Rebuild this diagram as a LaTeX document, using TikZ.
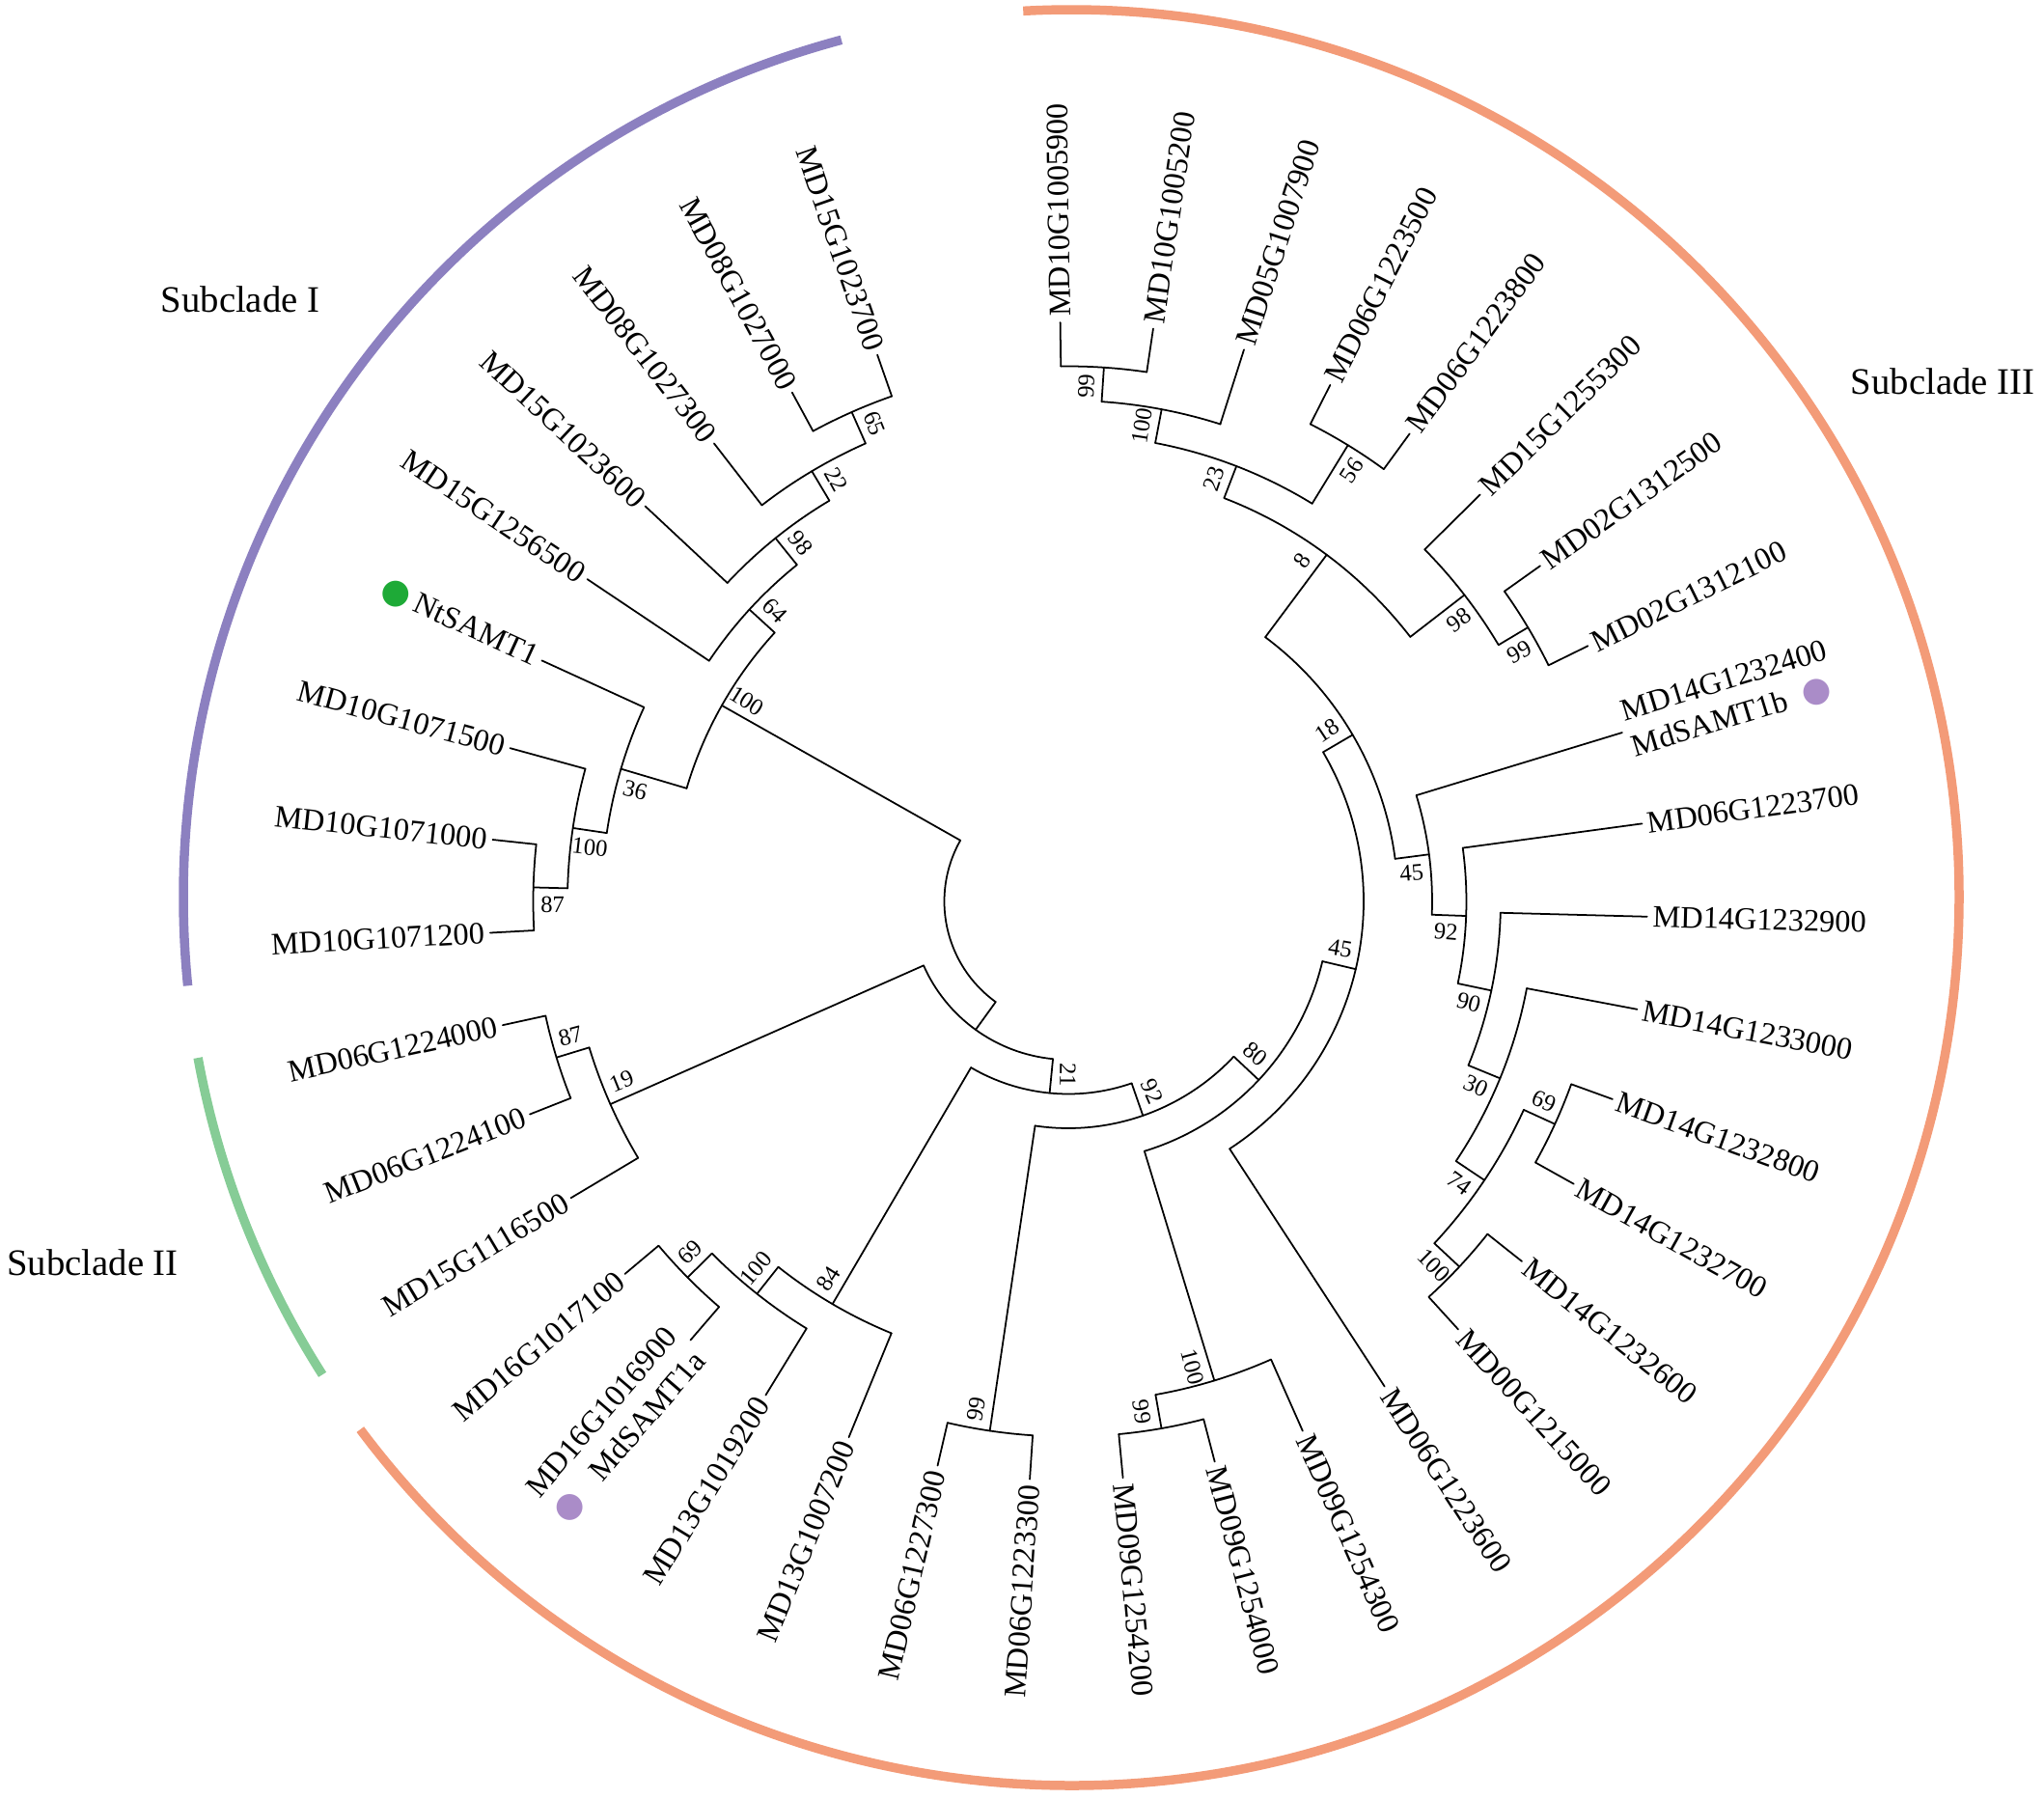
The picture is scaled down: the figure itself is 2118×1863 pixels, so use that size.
\documentclass[tikz,border=0pt]{standalone}
\usepackage{fontspec}
\setmainfont{Liberation Serif}
\newfontfamily\dotfont{DejaVu Sans}
\definecolor{cladeone}{RGB}{140,128,192}
\definecolor{cladetwo}{RGB}{134,204,150}
\definecolor{cladethree}{RGB}{243,155,120}
\definecolor{ntgreen}{RGB}{30,170,55}
\definecolor{mdpurple}{RGB}{170,140,200}
\newcommand{\cladedot}[1]{{\dotfont\fontsize{10}{10}\selectfont\textcolor{#1}{●}}}

\begin{document}
\begin{tikzpicture}[x=0.01cm, y=0.01cm,
	branch/.style={line width=0.5pt, line cap=round},
	taxon/.style={font=\fontsize{9.2}{11}\selectfont, inner sep=1.5pt},
	boot/.style={font=\fontsize{7}{8}\selectfont, inner sep=0pt},
	ring/.style={line width=2.7pt},
	clade/.style={font=\fontsize{11}{13}\selectfont}]
\useasboundingbox (-1110,-933) rectangle (1008,930);
\begin{scope}[xshift=-0.03cm, yshift=-0.04cm]
% taxa: index/parent radius/name
\foreach \li/\lp/\lt in {0/554.5/MD10G1005900, 1/554.5/MD10G1005200, 2/519/MD05G1007900,
	3/554.5/MD06G1223500, 4/554.5/MD06G1223800, 5/519/MD15G1255300, 6/554.5/MD02G1312500,
	7/554.5/MD02G1312100, 8/377/{MD14G1232400\\MdSAMT1b\hspace{0.5em}\cladedot{mdpurple}},
	9/412.5/MD06G1223700, 10/448/MD14G1232900, 11/483.5/MD14G1233000, 12/554.5/MD14G1232800,
	13/554.5/MD14G1232700, 14/554.5/MD14G1232600, 15/554.5/MD00G1215000, 16/306/MD06G1223600,
	17/519/MD09G1254300, 18/554.5/MD09G1254000, 19/554.5/MD09G1254200, 20/554.5/MD06G1223300,
	21/554.5/MD06G1227300, 22/483.5/MD13G1007200, 23/519/MD13G1019200,
	24/554.5/{MD16G1016900\\\cladedot{mdpurple}\hspace{0.8em}MdSAMT1a}, 25/554.5/MD16G1017100,
	26/519/MD15G1116500, 27/554.5/MD06G1224100, 28/554.5/MD06G1224000, 29/554.5/MD10G1071200,
	30/554.5/MD10G1071000, 31/519/MD10G1071500, 32/483.5/{\cladedot{ntgreen}\hspace{0.2em}NtSAMT1},
	33/448/MD15G1256500, 34/483.5/MD15G1023600, 35/519/MD08G1027300, 36/554.5/MD08G1027000,
	37/554.5/MD15G1023700} {
	\pgfmathsetmacro\la{90.8-9.2308*\li}
	\coordinate (l\li) at (\la:600);
	\coordinate (fl\li) at (\la:\lp);
	\draw[branch] (fl\li) -- (l\li);
	\ifdim\la pt<-90pt
		\node[taxon, anchor=east, rotate=\la+180, align=right] (t\li) at (l\li) {\lt};
	\else
		\node[taxon, anchor=west, rotate=\la, align=left] (t\li) at (l\li) {\lt};
	\fi
}
% inner nodes: name/angle/radius/parent radius/first child/arc from/arc to/bootstrap/side
\foreach \na/\nq/\nr/\np/\nc/\ca/\cb/\nb/\ns in {
	n14/86.185/554.5/519/l0/90.80/81.57/99/1, n12/79.26/519/483.5/n14/86.185/72.34/100/1,
	n13/58.495/554.5/483.5/l3/63.11/53.88/56/-1, n10/68.88/483.5/448/n12/79.26/58.495/23/1,
	n15/30.80/554.5/519/l6/35.42/26.18/99/-1, n11/37.725/519/448/l5/44.65/30.80/98/-1,
	n9/53.30/448/341.5/n10/68.88/37.725/8/1,
	n20/-24.585/554.5/519/l12/-19.97/-29.20/69/1, n21/-43.045/554.5/519/l14/-38.43/-47.66/100/-1,
	n19/-33.815/519/483.5/n20/-24.585/-43.045/74/-1, n18/-22.28/483.5/448/l11/-10.74/-33.815/30/-1,
	n17/-11.895/448/412.5/l10/-1.51/-22.28/90/-1, n16/-2.09/412.5/377/l9/7.72/-11.895/92/-1,
	n8/7.43/377/341.5/l8/16.95/-2.09/45/-1, n7/30.365/341.5/306/n9/53.30/7.43/18/1,
	n6/-13.26/306/270.5/n7/30.365/-56.89/45/1,
	n23/-79.97/554.5/519/l18/-75.35/-84.59/99/-1, n22/-73.045/519/270.5/l17/-66.12/-79.97/100/-1,
	n5/-43.15/270.5/235/n6/-13.26/-73.045/80/1,
	n24/-98.435/554.5/235/l20/-93.82/-103.05/99/-1, n4/-70.79/235/199.5/n5/-43.15/-98.435/92/1,
	n27/-135.355/554.5/519/l24/-130.74/-139.97/69/-1, n26/-128.43/519/483.5/l23/-121.51/-135.355/100/-1,
	n25/-120.36/483.5/199.5/l22/-112.28/-128.43/84/-1, n3/-95.575/199.5/164/n4/-70.79/-120.36/21/1,
	n29/-163.045/554.5/519/l27/-158.43/-167.66/87/-1, n28/-156.12/519/164/l26/-149.20/-163.045/19/-1,
	n31/-181.505/554.5/519/l29/-176.89/-186.12/87/1, n30/-188.43/519/483.5/n31/-181.505/-195.35/100/1,
	n36/-196.505/483.5/412.5/n30/-188.43/-204.58/36/1,
	n35/-246.125/554.5/519/l36/-241.51/-250.74/65/-1, n34/-239.20/519/483.5/l35/-232.28/-246.125/22/-1,
	n33/-231.125/483.5/448/l34/-223.05/-239.20/98/-1, n32/-222.47/448/412.5/l33/-213.82/-231.125/64/-1,
	n1/-209.49/412.5/128.5/n36/-196.505/-222.47/100/-1} {
	\coordinate (\na) at (\nq:\nr);
	\coordinate (f\na) at (\nq:\np);
	\draw[branch] (f\na) -- (\na);
	\draw[branch] (f\nc) arc[start angle=\ca, end angle=\cb, radius=\nr];
	\pgfmathsetmacro\ba{\nq+\ns*deg(17/(\nr-20))}
	\pgfmathsetmacro\bd{\nr-20}
	\ifdim\ba pt<-90.5pt \pgfmathsetmacro\br{\ba+180}\else\pgfmathsetmacro\br{\ba}\fi
	\node[boot, rotate=\br] (b\na) at (\ba:\bd) {\nb};
}
% root
\coordinate (n2) at (-125.85:164);
\coordinate (fn2) at (-125.85:128.5);
\draw[branch] (fn2) -- (n2);
\draw[branch] (fn3) arc[start angle=-95.575, end angle=-156.12, radius=164];
\draw[branch] (fn2) arc[start angle=-125.85, end angle=-209.49, radius=128.5];
\end{scope}
% subclade rings
\draw[ring, cladeone] (105:920) arc[start angle=105, end angle=185.7, radius=920];
\draw[ring, cladetwo] (190.4:920) arc[start angle=190.4, end angle=212.5, radius=920];
\draw[ring, cladethree] (216.8:920) arc[start angle=216.8, end angle=453.1, radius=920];
\node[clade] (sub1) at (-861,620) {Subclade I};
\node[clade] (sub2) at (-1014,-378) {Subclade II};
\node[clade] (sub3) at (903,535) {Subclade III};
\end{tikzpicture}
\end{document}
